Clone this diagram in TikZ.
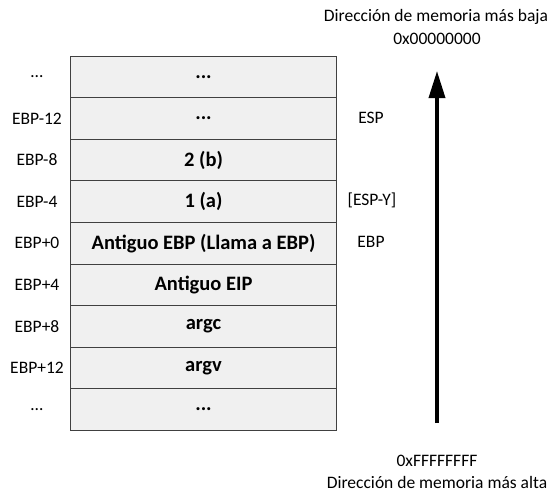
\documentclass[tikz,border=0pt]{standalone}
\usepackage{fontspec}
\setmainfont{Carlito}
\usetikzlibrary{arrows.meta}
\newcommand\mydots{...}
\begin{document}
\begin{tikzpicture}[x=1pt,y=-1pt,
  cell/.style={draw=black!75,line width=1pt,fill=black!6,minimum width=266pt,minimum height=41.6pt,inner sep=0pt,font=\fontsize{20.5}{23}\selectfont\bfseries},
  lab/.style={font=\fontsize{17.5}{20}\selectfont,inner sep=0pt},
  memarrow/.style={line width=3.5pt,-{Triangle[length=27pt,width=16pt]}}]
\useasboundingbox (0,0) rectangle (558,501);
\foreach \t [count=\i from 0] in {\mydots,\mydots,2 (b),1 (a),Antiguo EBP (Llama a EBP),Antiguo EIP,argc,argv,\mydots}{
  \node[cell] (r\i) at (203.5,{56+41.6*(\i+0.5)}) {\t};
}
\foreach \t [count=\i from 0] in {…,EBP-12,EBP-8,EBP-4,EBP+0,EBP+4,EBP+8,EBP+12,…}{
  \node[lab,anchor=center] (l\i) at (37,{56+41.6*(\i+0.5)}) {\t};
}
\node[lab] (esp) at (371,{56+41.6*1.5-1}) {ESP};
\node[lab] (espy) at (372,{56+41.6*3.5-1}) {[ESP-Y]};
\node[lab] (ebp) at (371,{56+41.6*4.5-1}) {EBP};
\node[lab] (t1) at (436,17) {Dirección de memoria más baja};
\node[lab] (t2) at (437,39) {0x00000000};
\node[lab] (b1) at (437,461) {0xFFFFFFFF};
\node[lab] (b2) at (437,482) {Dirección de memoria más alta};
\coordinate (abot) at (437,423);
\coordinate (atop) at (437,71);
\draw[memarrow] (abot) -- (atop);
\end{tikzpicture}
\end{document}
